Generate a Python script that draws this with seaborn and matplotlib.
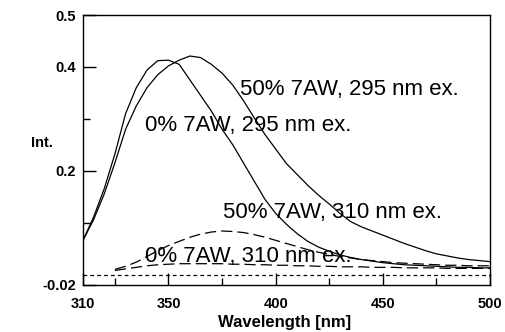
import numpy as np
import pandas as pd
import matplotlib
matplotlib.use('Agg')
import matplotlib.pyplot as plt
import seaborn as sns
from matplotlib.ticker import FixedLocator

# wavelength grid (nm) for the spectra
wl = list(range(310, 505, 5))
wl_310ex = list(range(325, 505, 5))

# 0% 7AW, 295 nm excitation
int_0_295 = [0.065, 0.11, 0.165, 0.232, 0.31, 0.36, 0.394, 0.412, 0.413, 0.405,
             0.375, 0.345, 0.315, 0.28, 0.25, 0.215, 0.18, 0.145, 0.118, 0.097,
             0.079, 0.064, 0.053, 0.045, 0.038, 0.033, 0.029, 0.026, 0.023, 0.021,
             0.019, 0.018, 0.017, 0.016, 0.015, 0.014, 0.014, 0.013, 0.013]

# 50% 7AW, 295 nm excitation
int_50_295 = [0.065, 0.105, 0.155, 0.215, 0.28, 0.325, 0.36, 0.385, 0.402, 0.413,
              0.421, 0.418, 0.405, 0.388, 0.365, 0.335, 0.302, 0.27, 0.242, 0.214,
              0.193, 0.172, 0.153, 0.136, 0.118, 0.102, 0.092, 0.084, 0.076, 0.068,
              0.06, 0.053, 0.046, 0.04, 0.036, 0.032, 0.029, 0.027, 0.025]

# 50% 7AW, 310 nm excitation
int_50_310 = [0.01, 0.016, 0.024, 0.035, 0.046, 0.056, 0.064, 0.072, 0.078, 0.082,
              0.084, 0.083, 0.081, 0.077, 0.072, 0.066, 0.06, 0.054, 0.048, 0.043,
              0.039, 0.035, 0.032, 0.029, 0.027, 0.025, 0.023, 0.022, 0.021, 0.02,
              0.019, 0.018, 0.018, 0.017, 0.017, 0.017]

# 0% 7AW, 310 nm excitation
int_0_310 = [0.008, 0.011, 0.014, 0.017, 0.019, 0.02, 0.021, 0.021, 0.021, 0.021,
             0.021, 0.02, 0.02, 0.019, 0.019, 0.018, 0.018, 0.017, 0.017, 0.016,
             0.016, 0.015, 0.015, 0.015, 0.014, 0.014, 0.014, 0.013, 0.013, 0.013,
             0.013, 0.012, 0.012, 0.012, 0.012, 0.012]

# zero baseline
base_x = [310, 500]
base_y = [0.0, 0.0]

labels = ['50% 7AW, 295 nm ex.', '0% 7AW, 295 nm ex.',
          '50% 7AW, 310 nm ex.', '0% 7AW, 310 nm ex.']
label_x = [383.5, 339, 375.5, 339]
label_y = [0.356, 0.288, 0.119, 0.035]

yticks_major = [-0.02, 0.2, 0.4, 0.5]
yticks_minor = [0.1, 0.3]
xticks_major = [310, 350, 400, 450, 500]
xticks_minor = [325, 375, 425, 475]

sns.set_theme(style='white')
plt.rcParams['font.family'] = ['Liberation Sans', 'DejaVu Sans']

fig = plt.figure(figsize=(5.05, 3.32), dpi=100)
ax = fig.add_axes([0.1638, 0.1416, 0.8065, 0.8132])

lw = 0.9
sns.lineplot(x=wl, y=int_0_295, ax=ax, color='black', lw=lw)
sns.lineplot(x=wl, y=int_50_295, ax=ax, color='black', lw=lw)
sns.lineplot(x=wl_310ex, y=int_50_310, ax=ax, color='black', lw=lw,
             linestyle=(0, (9, 4)))
sns.lineplot(x=wl_310ex, y=int_0_310, ax=ax, color='black', lw=lw,
             linestyle=(0, (9, 4)))
sns.lineplot(x=base_x, y=base_y, ax=ax, color='black', lw=lw,
             linestyle=(0, (3, 2.5)))

for t, tx, ty in zip(labels, label_x, label_y):
    ax.text(tx, ty, t, fontsize=16, va='center', ha='left', color='black')

ax.set_xlim(310, 500)
ax.set_ylim(-0.02, 0.5)

ax.xaxis.set_major_locator(FixedLocator(xticks_major))
ax.xaxis.set_minor_locator(FixedLocator(xticks_minor))
ax.yaxis.set_major_locator(FixedLocator(yticks_major))
ax.yaxis.set_minor_locator(FixedLocator(yticks_minor))
ax.set_xticklabels([str(v) for v in xticks_major])
ax.set_yticklabels(['-0.02', '0.2', '0.4', '0.5'])

ax.tick_params(which='both', bottom=True, left=True, top=False, right=False)
ax.tick_params(which='major', direction='in', length=9, width=1, color='black',
               labelsize=10.5, labelcolor='black')
ax.tick_params(which='minor', direction='in', length=5, width=1, color='black')
ax.tick_params(axis='x', which='major', pad=9)
ax.tick_params(axis='y', which='major', pad=5)
for lab in ax.get_xticklabels() + ax.get_yticklabels():
    lab.set_fontweight('bold')

for s in ax.spines.values():
    s.set_visible(True)
    s.set_color('black')
    s.set_linewidth(1.0)

ax.set_xlabel('Wavelength [nm]', fontsize=12, fontweight='bold', color='black')
ax.set_ylabel('Int.', fontsize=10.5, fontweight='bold', rotation=0, color='black')
ax.xaxis.set_label_coords(0.495, -0.113)
ax.yaxis.set_label_coords(-0.1, 0.5)

fig.savefig('out.png', dpi=100, facecolor='white')
